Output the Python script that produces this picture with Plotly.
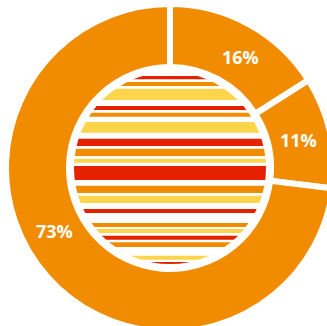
import math
import plotly.graph_objects as go

# Share of the three segments (clockwise from 12 o'clock)
segment_names = ["A", "B", "C"]
segment_values = [16, 11, 73]

# Horizontal stripes of the central disc, as depth bands (0 = top of disc, 192 = bottom)
stripe_top = [4, 10, 16.7, 34, 40.7, 50, 66.7, 76.7, 86.7, 94, 113.7, 123.7, 137, 151, 157, 163.7, 170.3, 183.7, 190]
stripe_bottom = [7.3, 14, 28, 38, 44.7, 60.7, 74, 84, 90.7, 108, 121, 131, 141, 155, 161, 167.7, 175, 187.7, 194]
stripe_kind = ["red", "orange", "yellow", "red", "orange", "yellow", "red", "orange", "yellow", "red",
               "orange", "yellow", "red", "orange", "yellow", "red", "orange", "yellow", "red"]

ORANGE = "#F18C00"
RED = "#E62100"
YELLOW = "#FDD54B"
palette = {"red": RED, "orange": ORANGE, "yellow": YELLOW}

W, H = 340, 340
cx, cy = 170, 168          # centre of the donut in px
r_out = 164                # outer radius of the donut
r_hole = 101               # inner radius of the donut
r_disc = 96                # radius of the striped disc
r_ring = 102               # outer radius of the white ring
r_label = 131.5            # radius of the percentage labels
label_nudge_deg = [3.5, 0.3, 12.7]   # angular offset of each label from its slice middle


def dom_x(r):
    return [(cx - r) / W, (cx + r) / W]


def dom_y(r):
    return [1 - (cy + r) / H, 1 - (cy - r) / H]


fig = go.Figure()

# striped disc, drawn as horizontal bars on a hidden cartesian axis
fig.add_trace(go.Bar(
    orientation="h",
    y=[(t + b) / 2 for t, b in zip(stripe_top, stripe_bottom)],
    width=[b - t for t, b in zip(stripe_top, stripe_bottom)],
    x=[1] * len(stripe_top),
    base=0,
    marker=dict(color=[palette[k] for k in stripe_kind], line=dict(width=0)),
    hoverinfo="skip",
    showlegend=False,
))

# white ring around the disc
fig.add_trace(go.Pie(
    values=[1],
    hole=r_disc / r_ring,
    marker=dict(colors=["white"], line=dict(width=0)),
    textinfo="none",
    hoverinfo="skip",
    showlegend=False,
    sort=False,
    domain=dict(x=dom_x(r_ring), y=dom_y(r_ring)),
))

# the orange donut
fig.add_trace(go.Pie(
    labels=segment_names,
    values=segment_values,
    hole=r_hole / r_out,
    sort=False,
    direction="clockwise",
    rotation=0,
    marker=dict(colors=[ORANGE] * len(segment_values), line=dict(color="white", width=6)),
    textinfo="none",
    hoverinfo="skip",
    showlegend=False,
    domain=dict(x=dom_x(r_out), y=dom_y(r_out)),
))

# percentage labels inside the ring
total = sum(segment_values)
start = 0.0
for v, nudge in zip(segment_values, label_nudge_deg):
    span = 360.0 * v / total
    theta = math.radians(start + span / 2 + nudge)
    start += span
    px = cx + r_label * math.sin(theta)
    py = cy - r_label * math.cos(theta)
    fig.add_annotation(
        x=px / W, y=1 - py / H, xref="paper", yref="paper",
        text=f"{round(100 * v / total)}%",
        showarrow=False, xanchor="center", yanchor="middle",
        font=dict(family="Open Sans", size=18, color="white", weight="bold"),
    )

fig.update_layout(
    width=W,
    height=H,
    margin=dict(l=0, r=0, t=0, b=0),
    paper_bgcolor="white",
    plot_bgcolor="white",
    showlegend=False,
    xaxis=dict(range=[0, 1], domain=dom_x(r_disc), visible=False, fixedrange=True),
    yaxis=dict(range=[192, 0], domain=dom_y(r_disc), visible=False, fixedrange=True),
)

fig.write_html("out.html", config=dict(displayModeBar=False),
               post_script="document.body.style.overflow='hidden';")
